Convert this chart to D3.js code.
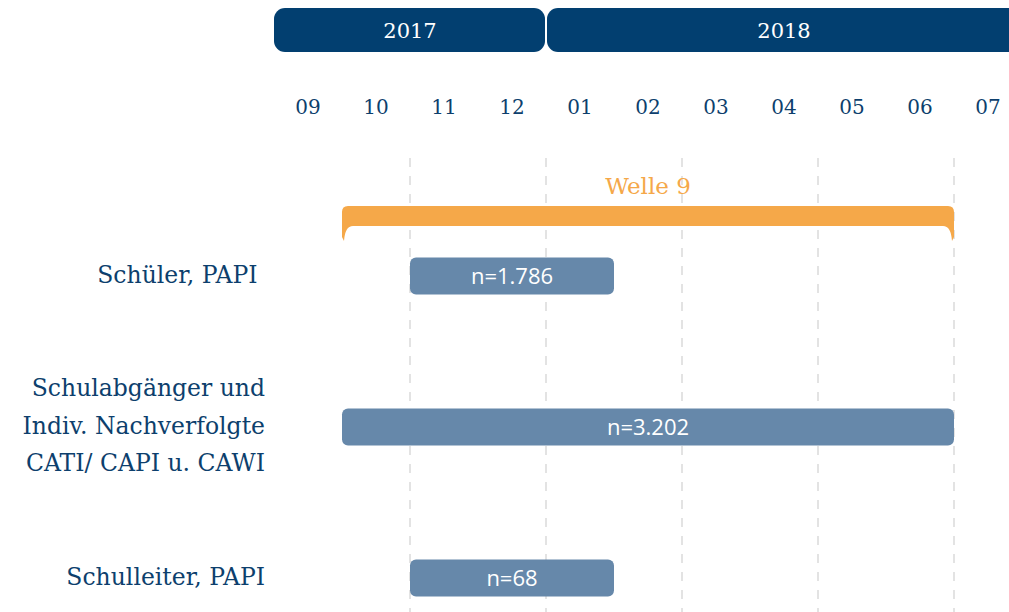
<!DOCTYPE html>
<style>
    body { margin: 0; background: #fff; }
    .serif { font-family: "DejaVu Serif", serif; }
    .month { font-size: 20px; fill: #0d3f6d; text-anchor: middle; }
    .year { font-size: 21px; fill: #fff; text-anchor: middle; }
    .rowlab { font-size: 23.5px; fill: #0d3f6d; text-anchor: end; }
    .nlab { font-family: "Open Sans", sans-serif; font-size: 22px; fill: #fff; text-anchor: middle; }
</style>
<svg width="1009" height="612"></svg>
<script src="https://d3js.org/d3.v7.min.js"></script>
<script>

    // months shown on the axis (Sept 2017 .. July 2018)
    var months = ["09", "10", "11", "12", "01", "02", "03", "04", "05", "06", "07"];
    var years = ["2017", "2018"];
    var yearStart = ["09", "01"];
    var yearEnd = ["12", "07"];

    var waveLabel = "Welle 9";
    var waveStart = "10", waveEnd = "06";

    var rows = [["Schüler, PAPI\u00a0"], ["Schulabgänger und", "Indiv. Nachverfolgte", "CATI/ CAPI u. CAWI"], ["Schulleiter, PAPI"]];
    var barStart = ["11", "10", "11"];
    var barEnd = ["01", "06", "01"];
    var barLabel = ["n=1.786", "n=3.202", "n=68"];
    var gridMonths = ["11", "01", "03", "05", "07"];

    var svg = d3.select("svg");

    var x = d3.scaleBand().domain(months).range([274, 274 + 68 * months.length]);
    var cy = d3.scalePoint().domain(d3.range(rows.length)).range([276, 578]);

    var navy = "#023f70", barFill = "#6688aa", orange = "#f5a849";

    // grid lines
    svg.append("g").selectAll("line")
        .data(gridMonths)
        .enter().append("line")
        .attr("x1", function(d) { return x(d); })
        .attr("x2", function(d) { return x(d); })
        .attr("y1", 158)
        .attr("y2", 612)
        .attr("stroke", "#e3e3e3")
        .attr("stroke-width", 2)
        .attr("stroke-dasharray", "9,9");

    // year bars
    var yg = svg.append("g").selectAll("g")
        .data(years)
        .enter().append("g");

    yg.append("rect")
        .attr("x", function(d, i) { return x(yearStart[i]) + (i ? 1 : 0); })
        .attr("y", 8)
        .attr("width", function(d, i) { return x(yearEnd[i]) + x.bandwidth() - x(yearStart[i]) - 1 + (i ? 20 : 0); })
        .attr("height", 44)
        .attr("rx", 11)
        .attr("fill", navy);

    yg.append("text")
        .attr("class", "year serif")
        .attr("x", function(d, i) { return (x(yearStart[i]) + x(yearEnd[i]) + x.bandwidth()) / 2; })
        .attr("y", 38)
        .text(function(d) { return d; });

    // month labels
    svg.append("g").selectAll("text")
        .data(months)
        .enter().append("text")
        .attr("class", "month serif")
        .attr("x", function(d) { return x(d) + x.bandwidth() / 2; })
        .attr("y", 114)
        .text(function(d) { return d; });

    // wave bracket
    var bx0 = x(waveStart), bx1 = x(waveEnd) + x.bandwidth();
    var bTop = 206, bBot = 226, bTip = 241, r = 6;
    var p = "M" + bx0 + "," + (bTop + r) +
        " Q" + bx0 + "," + bTop + " " + (bx0 + r) + "," + bTop +
        " L" + (bx1 - r) + "," + bTop +
        " Q" + bx1 + "," + bTop + " " + bx1 + "," + (bTop + r) +
        " L" + bx1 + "," + (bTip - 4) +
        " L" + (bx1 - 2) + "," + bTip +
        " Q" + (bx1 - 3) + "," + bBot + " " + (bx1 - 11) + "," + bBot +
        " L" + (bx0 + 11) + "," + bBot +
        " Q" + (bx0 + 3) + "," + bBot + " " + (bx0 + 2) + "," + bTip +
        " L" + bx0 + "," + (bTip - 4) + " Z";
    svg.append("path").attr("d", p).attr("fill", orange);

    svg.append("text")
        .attr("class", "serif")
        .attr("x", (bx0 + bx1) / 2)
        .attr("y", 194)
        .attr("text-anchor", "middle")
        .style("font-size", "23px")
        .style("fill", orange)
        .text(waveLabel);

    // survey bars
    var bh = 37;

    svg.selectAll(".bar")
        .data(barLabel)
        .enter().append("rect")
        .attr("class", "bar")
        .attr("x", function(d, i) { return x(barStart[i]); })
        .attr("y", function(d, i) { return cy(i) - bh / 2; })
        .attr("width", function(d, i) { return x(barEnd[i]) + x.bandwidth() - x(barStart[i]); })
        .attr("height", bh)
        .attr("rx", 6)
        .attr("fill", barFill);

    svg.selectAll(".nlab")
        .data(barLabel)
        .enter().append("text")
        .attr("class", "nlab")
        .attr("x", function(d, i) { return (x(barStart[i]) + x(barEnd[i]) + x.bandwidth()) / 2; })
        .attr("y", function(d, i) { return cy(i); })
        .attr("dy", "0.36em")
        .text(function(d) { return d; });

    // row labels
    svg.selectAll(".rowlab")
        .data(rows)
        .enter().append("text")
        .attr("class", "rowlab serif")
        .attr("y", function(d, i) { return cy(i) - (d.length - 1) * 19; })
        .each(function(d) {
            d3.select(this).selectAll("tspan")
                .data(d)
                .enter().append("tspan")
                .attr("x", 265)
                .attr("dy", function(t, j) { return j ? 37.5 : 7; })
                .text(function(t) { return t; });
        });

</script>
